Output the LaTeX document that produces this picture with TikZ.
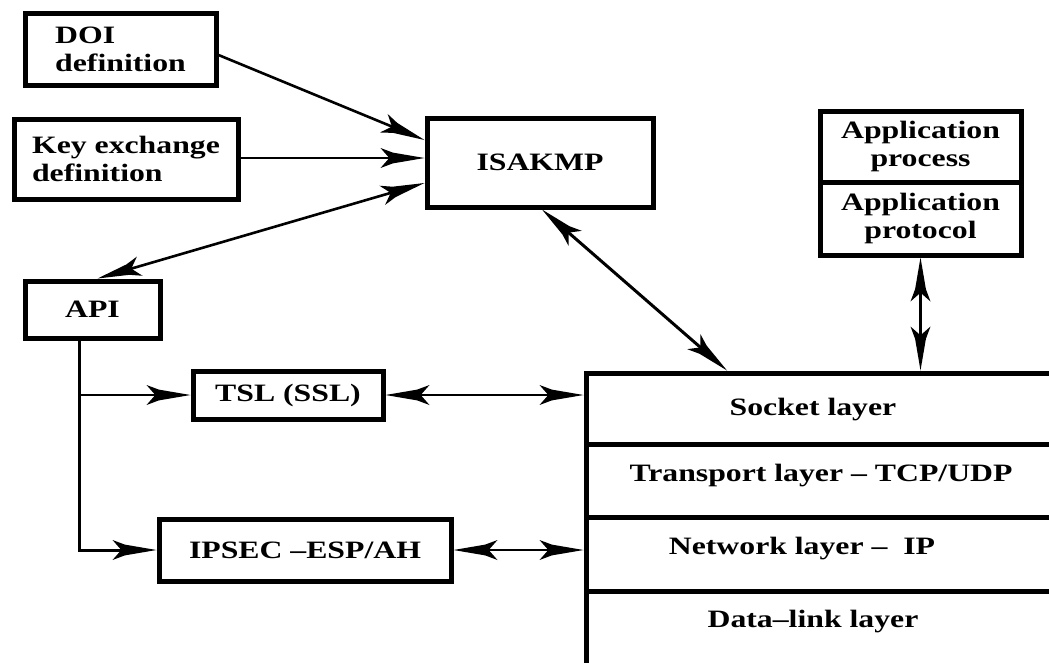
\documentclass[tikz,border=0pt]{standalone}
\usepackage{fontspec}
\setmainfont{Liberation Serif}[FakeStretch=1.27]
\usetikzlibrary{calc,arrows.meta}

% Long dart-shaped arrow head with flared, notched barbs
\pgfdeclarearrow{
  name = Barb,
  parameters = {\the\pgfarrowlength,\the\pgfarrowwidth},
  setup code = {
    \pgfarrowssettipend{0pt}
    \pgfarrowssetbackend{-\pgfarrowlength}
    \pgfarrowssetlineend{-.6\pgfarrowlength}
    \pgfarrowshullpoint{0pt}{0pt}
    \pgfarrowsupperhullpoint{-\pgfarrowlength}{.5\pgfarrowwidth}
    \pgfarrowssavethe\pgfarrowlength
    \pgfarrowssavethe\pgfarrowwidth
  },
  drawing code = {
    \pgfpathmoveto{\pgfpointorigin}
    \pgfpathlineto{\pgfpoint{-.72\pgfarrowlength}{.27\pgfarrowwidth}}
    \pgfpathlineto{\pgfpoint{-\pgfarrowlength}{.5\pgfarrowwidth}}
    \pgfpathlineto{\pgfpoint{-.8\pgfarrowlength}{0pt}}
    \pgfpathlineto{\pgfpoint{-\pgfarrowlength}{-.5\pgfarrowwidth}}
    \pgfpathlineto{\pgfpoint{-.72\pgfarrowlength}{-.27\pgfarrowwidth}}
    \pgfpathclose
    \pgfusepathqfill
  },
  defaults = {length = 44pt, width = 20pt}
}

\tikzset{
  txt/.style={font=\bfseries\fontsize{25}{28}\selectfont},
  box/.style={draw, line width=5pt, inner sep=0pt, txt},
  layer/.style={draw, line width=5pt, inner sep=0pt, minimum width=466pt},
  lbl/.style={inner sep=0pt, txt},
  link/.style={line width=2.6pt, -{Barb}},
  dlink/.style={line width=2.6pt, {Barb}-{Barb}},
}

\begin{document}
\begin{tikzpicture}[x=1pt,y=-1pt]
\path[use as bounding box, clip] (0,0) rectangle (1049,662);

% definition boxes and ISAKMP
\node[box, minimum width=191pt, minimum height=72pt, align=left] (doi) at (120.5,49) {DOI\\definition};
\node[box, minimum width=224pt, minimum height=80pt, align=left] (key) at (126,159) {Key exchange\\definition};
\node[box, minimum width=226pt, minimum height=89pt] (isakmp) at (540,162.5) {ISAKMP};

% application stack
\node[box, minimum width=201pt, minimum height=71pt, align=center] (appproc) at (920.5,146.5) {Application\\process};
\node[box, minimum width=201pt, minimum height=73pt, align=center] (appprot) at (920.5,218.5) {Application\\protocol};

% API and security protocols
\node[box, minimum width=135pt, minimum height=57pt] (api) at (92.5,309.5) {API};
\node[box, minimum width=190pt, minimum height=48pt] (tsl) at (288,395) {TSL (SSL)};
\node[box, minimum width=292pt, minimum height=62pt] (ipsec) at (305,550) {IPSEC –ESP/AH};

% layered protocol stack
\node[layer, minimum height=71pt] (sock) at (819,408.5) {};
\node[layer, minimum height=73pt] (trans) at (819,480.5) {};
\node[layer, minimum height=74pt] (net) at (819,554) {};
\node[layer, minimum height=74pt] (dl) at (819,628) {};
\node[lbl] (socktxt) at (813,410) {Socket layer};
\node[lbl] (transtxt) at (821,476) {Transport layer – TCP/UDP};
\node[lbl] (nettxt) at (802,549) {Network layer – \ IP};
\node[lbl] (dltxt) at (813,622) {Data–link layer};

% connectors
\draw[link] ($(doi.east)+(0,6)$) -- ($(isakmp.west)+(0,-22.5)$);
\draw[link] ($(key.east)+(0,-1)$) -- ($(isakmp.west)+(0,-4.5)$);
\draw[dlink] ($(api.north)+(5,0)$) -- ($(isakmp.west)+(0,20.5)$);
\draw[dlink, line width=3pt] ($(isakmp.south)+(2,0)$) -- ($(sock.north)+(-92,0)$);
\draw[dlink, line width=3pt] (appprot.south) -- (appprot.south |- sock.north);

\coordinate (trunk) at ($(api.south)+(-13.5,0)$);
\coordinate (branch) at (trunk |- tsl.west);
\draw[link, line width=3pt] (trunk) |- (ipsec.west);
\draw[link] (branch) -- (tsl.west);
\draw[dlink, line width=2pt] (tsl.east) -- (tsl.east -| sock.west);
\draw[dlink] (ipsec.east) -- (ipsec.east -| net.west);
\end{tikzpicture}
\end{document}
